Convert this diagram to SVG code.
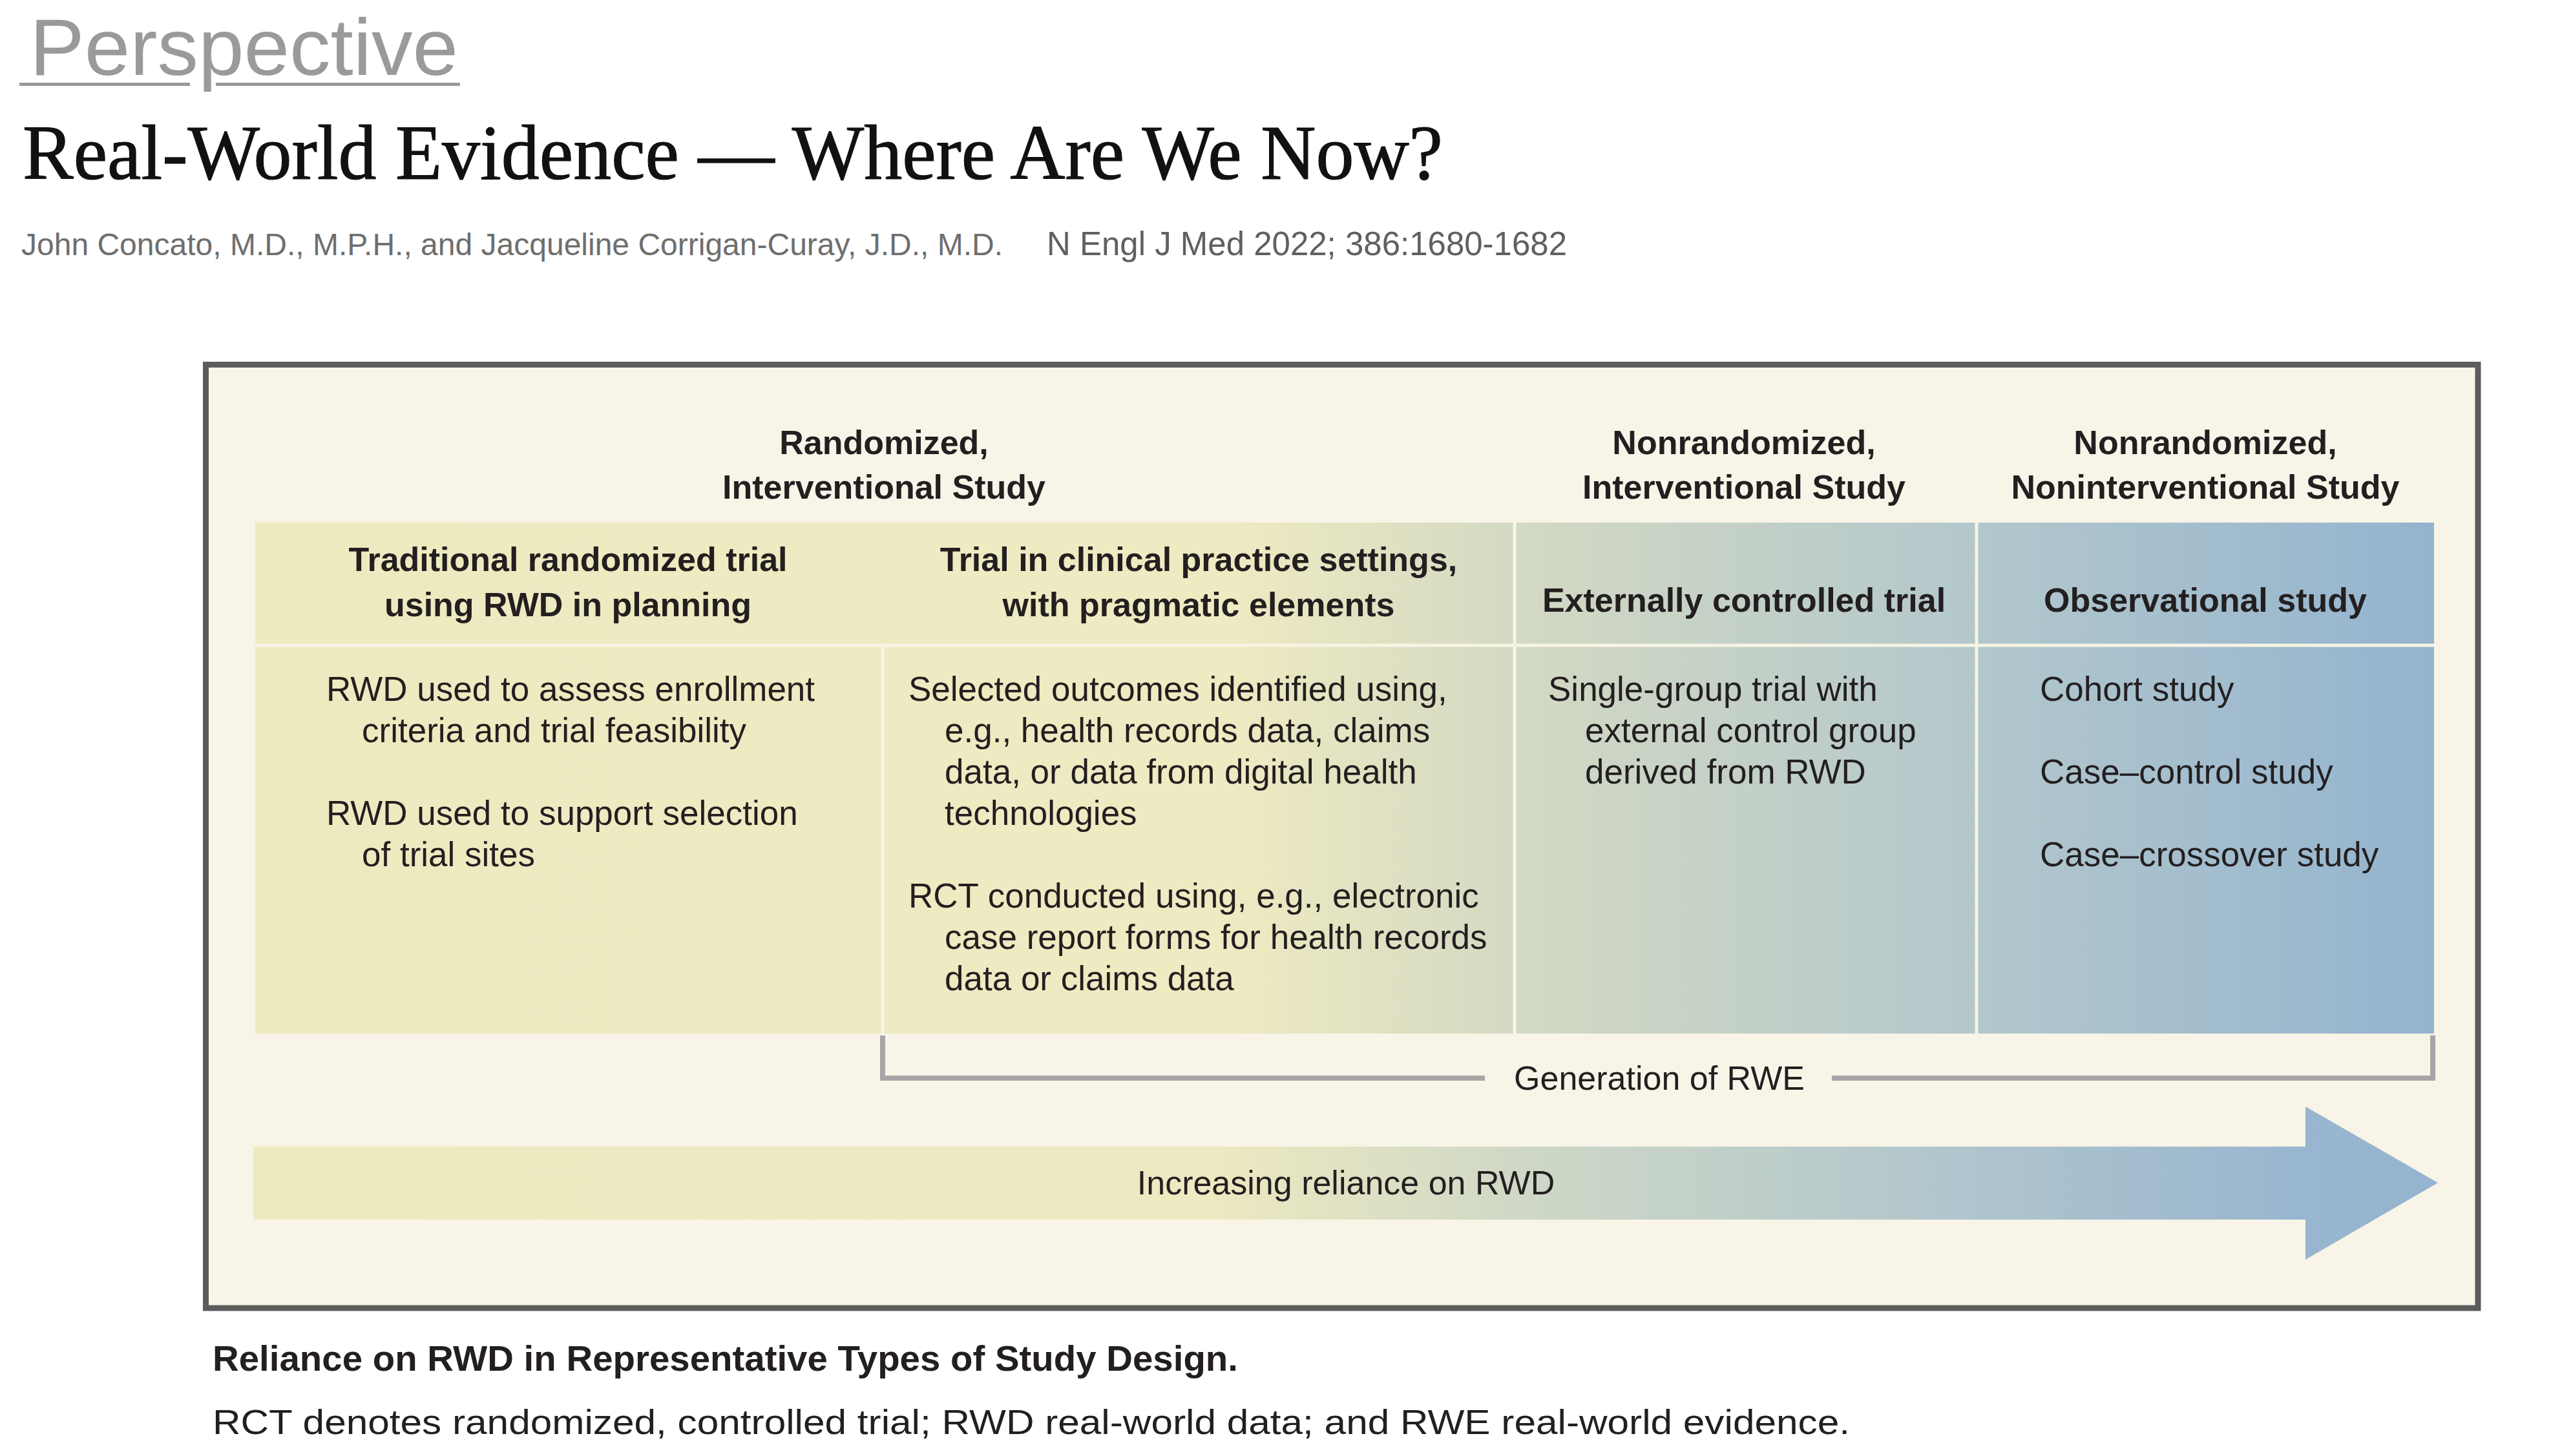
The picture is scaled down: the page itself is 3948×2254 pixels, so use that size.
<svg xmlns="http://www.w3.org/2000/svg" width="3948" height="2254" viewBox="0 0 3948 2254">
<defs>
<style>
.sans{font-family:"Liberation Sans",Arial,sans-serif}
.hdr{font-family:"Liberation Sans",Arial,sans-serif;font-weight:bold;font-size:52px;fill:#231f20;text-anchor:middle}
.body{font-family:"Liberation Sans",Arial,sans-serif;font-size:53px;fill:#231f20}
.lab{font-family:"Liberation Sans",Arial,sans-serif;font-size:52px;fill:#231f20;text-anchor:middle}
.div{stroke:#f7f4e4;stroke-width:5;fill:none}
.brk{stroke:#a9a5a7;stroke-width:8;fill:none}
</style>
<linearGradient id="gTable" gradientUnits="userSpaceOnUse" x1="395" y1="0" x2="3767" y2="0">
<stop offset="0" stop-color="#eeeac0"/>
<stop offset="0.45" stop-color="#eeeac2"/>
<stop offset="0.58" stop-color="#d3d9c3"/>
<stop offset="0.79" stop-color="#b3c7cc"/>
<stop offset="1" stop-color="#93b4cf"/>
</linearGradient>
<linearGradient id="gArrow" gradientUnits="userSpaceOnUse" x1="392" y1="0" x2="3773" y2="0">
<stop offset="0" stop-color="#eeeac0"/>
<stop offset="0.44" stop-color="#ede9c1"/>
<stop offset="0.58" stop-color="#cfd8c6"/>
<stop offset="0.78" stop-color="#b0c5cd"/>
<stop offset="0.94" stop-color="#98b6cf"/>
<stop offset="1" stop-color="#95b4cf"/>
</linearGradient>
</defs>
<rect width="3948" height="2254" fill="#ffffff"/>

<g id="header">
<text class="sans" x="46" y="116" font-size="124" fill="#9a9a9a" textLength="663" lengthAdjust="spacingAndGlyphs">Perspective</text>
<line x1="30" y1="130.5" x2="294" y2="130.5" stroke="#9a9a9a" stroke-width="5"/>
<line x1="334" y1="130.5" x2="712" y2="130.5" stroke="#9a9a9a" stroke-width="5"/>
<text x="35" y="277" font-family="'Liberation Serif','Times New Roman',serif" font-size="121" fill="#111111" stroke="#111111" stroke-width="1.2" textLength="2198" lengthAdjust="spacingAndGlyphs">Real-World Evidence — Where Are We Now?</text>
<text class="sans" x="33" y="395" font-size="48" fill="#6e6e6e" textLength="1519" lengthAdjust="spacingAndGlyphs">John Concato, M.D., M.P.H., and Jacqueline Corrigan-Curay, J.D., M.D.</text>
<text class="sans" x="1620" y="395" font-size="52" fill="#606060" textLength="805" lengthAdjust="spacingAndGlyphs">N Engl J Med 2022; 386:1680-1682</text>
</g>

<g id="frame">
<rect x="318.5" y="564.5" width="3516.5" height="1460.5" fill="#f8f4e7" stroke="#5c5c5c" stroke-width="9"/>
</g>

<g id="table-background">
<rect x="395" y="809" width="3372" height="791" fill="url(#gTable)"/>
<line class="div" x1="395" y1="999" x2="3767" y2="999"/>
<line class="div" x1="1366" y1="999" x2="1366" y2="1600"/>
<line class="div" x1="2344" y1="809" x2="2344" y2="1600"/>
<line class="div" x1="3059" y1="809" x2="3059" y2="1600"/>
</g>

<g id="study-randomized">
<text class="hdr" x="1368" y="703">Randomized,</text>
<text class="hdr" x="1368" y="772">Interventional Study</text>
</g>
<g id="study-nonrandomized-interventional">
<text class="hdr" x="2699" y="703">Nonrandomized,</text>
<text class="hdr" x="2699" y="772">Interventional Study</text>
</g>
<g id="study-nonrandomized-noninterventional">
<text class="hdr" x="3413" y="703">Nonrandomized,</text>
<text class="hdr" x="3413" y="772">Noninterventional Study</text>
</g>

<g id="col-traditional">
<text class="hdr" x="879" y="884">Traditional randomized trial</text>
<text class="hdr" x="879" y="954">using RWD in planning</text>
<text class="body" x="505" y="1085">RWD used to assess enrollment</text>
<text class="body" x="560" y="1149">criteria and trial feasibility</text>
<text class="body" x="505" y="1277">RWD used to support selection</text>
<text class="body" x="560" y="1341">of trial sites</text>
</g>

<g id="col-pragmatic">
<text class="hdr" x="1855" y="884">Trial in clinical practice settings,</text>
<text class="hdr" x="1855" y="954">with pragmatic elements</text>
<text class="body" x="1406" y="1085">Selected outcomes identified using,</text>
<text class="body" x="1462" y="1149">e.g., health records data, claims</text>
<text class="body" x="1462" y="1213">data, or data from digital health</text>
<text class="body" x="1462" y="1277">technologies</text>
<text class="body" x="1406" y="1405">RCT conducted using, e.g., electronic</text>
<text class="body" x="1462" y="1469">case report forms for health records</text>
<text class="body" x="1462" y="1533">data or claims data</text>
</g>

<g id="col-external">
<text class="hdr" x="2699" y="947">Externally controlled trial</text>
<text class="body" x="2396" y="1085">Single-group trial with</text>
<text class="body" x="2453" y="1149">external control group</text>
<text class="body" x="2453" y="1213">derived from RWD</text>
</g>

<g id="col-observational">
<text class="hdr" x="3413" y="947">Observational study</text>
<text class="body" x="3157" y="1085">Cohort study</text>
<text class="body" x="3157" y="1213">Case–control study</text>
<text class="body" x="3157" y="1341">Case–crossover study</text>
</g>

<g id="connectors">
<path class="brk" d="M1366 1603 V1669 H2298"/>
<path class="brk" d="M2835 1669 H3765 V1603"/>
</g>

<g id="rwe-label">
<text class="lab" x="2568" y="1687">Generation of RWE</text>
</g>

<g id="reliance-arrow">
<polygon points="392,1775 3568,1775 3568,1713 3773,1831 3568,1950 3568,1888 392,1888" fill="url(#gArrow)"/>
<text class="lab" x="2083" y="1849">Increasing reliance on RWD</text>
</g>

<g id="caption">
<text class="sans" x="329" y="2122" font-size="56" font-weight="bold" fill="#231f20" textLength="1587" lengthAdjust="spacingAndGlyphs">Reliance on RWD in Representative Types of Study Design.</text>
<text class="sans" x="329" y="2220" font-size="54" fill="#231f20" textLength="2534" lengthAdjust="spacingAndGlyphs">RCT denotes randomized, controlled trial; RWD real-world data; and RWE real-world evidence.</text>
</g>
</svg>
